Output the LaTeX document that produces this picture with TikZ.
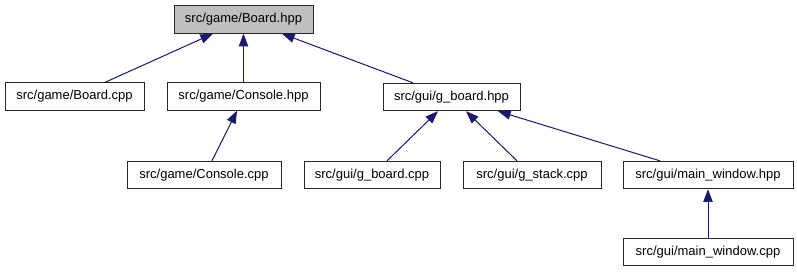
\documentclass[tikz,border=0pt]{standalone}
\usepackage{fontspec}
\setmainfont{Liberation Sans}
\usetikzlibrary{calc,arrows.meta}
\definecolor{edgeblue}{HTML}{191970}

\begin{document}
\begin{tikzpicture}[x=0.75pt,y=-0.75pt,
  file/.style={draw=black!85,line width=0.75pt,minimum height=20.5pt,inner sep=0pt,font=\fontsize{9.75}{11}\selectfont},
  dep/.style={edgeblue,line width=0.75pt,-{Triangle[length=9.5pt,width=7pt]}}]
\useasboundingbox (0,0) rectangle (797,272);
\node[file,fill=black!25,minimum width=104.25pt] (bhpp) at (243.5,19.5) {src/game/Board.hpp};
\node[file,minimum width=104.25pt] (bcpp) at (74.5,96.5) {src/game/Board.cpp};
\node[file,minimum width=114.75pt] (chpp) at (243.5,96.5) {src/game/Console.hpp};
\node[file,minimum width=102.75pt] (gbhpp) at (451.5,97) {src/gui/g\_board.hpp};
\node[file,minimum width=115.5pt] (ccpp) at (204,175) {src/game/Console.cpp};
\node[file,minimum width=102pt] (gbcpp) at (372,175) {src/gui/g\_board.cpp};
\node[file,minimum width=103.5pt] (gscpp) at (532,175) {src/gui/g\_stack.cpp};
\node[file,minimum width=127.5pt] (mwhpp) at (708,175) {src/gui/main\_window.hpp};
\node[file,minimum width=127.5pt] (mwcpp) at (708,252) {src/gui/main\_window.cpp};

\draw[dep] ($(bcpp.north)+(30.5,0)$) -- ($(bhpp.south)+(-30.5,0)$);
\draw[dep] (chpp.north) -- (bhpp.south);
\draw[dep] ($(gbhpp.north)+(-38.5,0)$) -- ($(bhpp.south)+(38.5,0)$);
\draw[dep] ($(ccpp.north)+(8,0)$) -- ($(chpp.south)+(-6.5,0)$);
\draw[dep] ($(gbcpp.north)+(15,0)$) -- ($(gbhpp.south)+(-13.5,0)$);
\draw[dep] ($(gscpp.north)+(-15,0)$) -- ($(gbhpp.south)+(14.5,0)$);
\draw[dep] ($(mwhpp.north)+(-48,0)$) -- ($(gbhpp.south)+(46.5,0)$);
\draw[dep] (mwcpp.north) -- (mwhpp.south);
\end{tikzpicture}
\end{document}
